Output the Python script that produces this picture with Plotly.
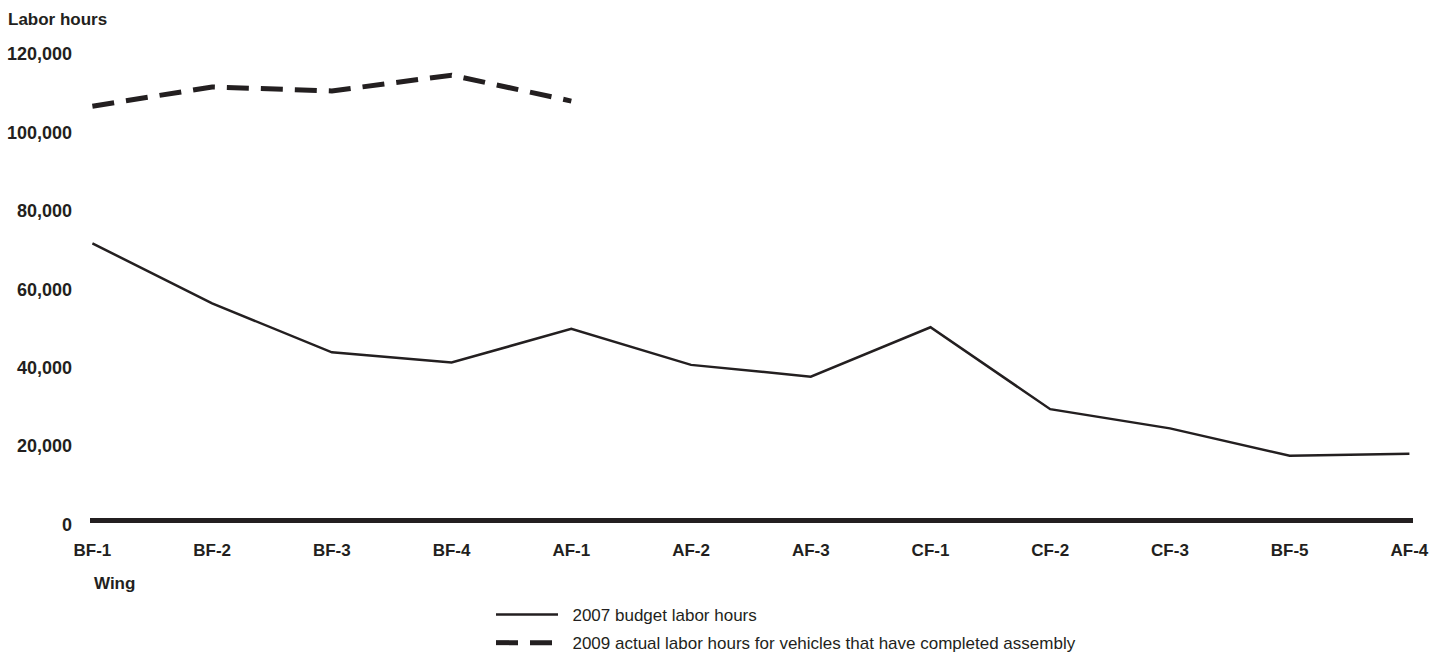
import plotly.graph_objects as go

wings = ["BF-1", "BF-2", "BF-3", "BF-4", "AF-1", "AF-2", "AF-3", "CF-1", "CF-2", "CF-3", "BF-5", "AF-4"]
budget_2007 = [70700, 55400, 42900, 40300, 48900, 39700, 36700, 49300, 28400, 23500, 16500, 17000]
actual_wings = ["BF-1", "BF-2", "BF-3", "BF-4", "AF-1"]
actual_2009 = [105700, 110600, 109600, 113600, 107000]
y_ticks = [0, 20000, 40000, 60000, 80000, 100000, 120000]
y_tick_text = ["0", "20,000", "40,000", "60,000", "80,000", "100,000", "120,000"]

INK = "#231f20"
FONT = "Liberation Sans, Arial, sans-serif"
NB = "\u00a0\u00a0"

PLOT_L, PLOT_R, PLOT_T, PLOT_B = 90, 1413, 42, 522
PW, PH = PLOT_R - PLOT_L, PLOT_B - PLOT_T

fig = go.Figure()
fig.add_trace(go.Scatter(
    x=wings, y=budget_2007, mode="lines",
    line=dict(color=INK, width=2.5),
    name=NB + "2007 budget labor hours", legendgroup="a",
))
fig.add_trace(go.Scatter(
    x=actual_wings, y=actual_2009, mode="lines",
    line=dict(color=INK, width=5, dash="22px,12px"),
    name=NB + "2009 actual labor hours for vehicles that have completed assembly", legendgroup="b",
))

fig.update_layout(
    width=1444, height=654,
    margin=dict(l=PLOT_L, r=1444 - PLOT_R, t=PLOT_T, b=654 - PLOT_B, autoexpand=False),
    plot_bgcolor="white", paper_bgcolor="white",
    font=dict(family=FONT, color=INK),
    showlegend=True,
    legend=dict(
        x=(491 - PLOT_L) / PW, y=(PLOT_B - 597) / PH, xanchor="left", yanchor="top",
        font=dict(size=17, family=FONT, color=INK),
        itemwidth=62, tracegroupgap=3,
        bgcolor="rgba(0,0,0,0)",
    ),
    xaxis=dict(
        type="category", categoryorder="array", categoryarray=wings,
        range=[-0.02, 11.03],
        showgrid=False, showline=False, zeroline=False,
        ticks="", ticklabelstandoff=16, tickangle=0,
        tickfont=dict(family=FONT, size=17, color=INK, weight="bold"),
    ),
    yaxis=dict(
        range=[-380, 122070],
        tickvals=y_ticks, ticktext=y_tick_text,
        showgrid=False, showline=False,
        zeroline=True, zerolinecolor=INK, zerolinewidth=5,
        ticks="", ticklabelstandoff=17, ticklabelshift=4,
        tickfont=dict(family=FONT, size=18, color=INK, weight="bold"),
    ),
    annotations=[
        dict(text="<b>Labor hours</b>", xref="paper", yref="paper",
             x=-(PLOT_L - 6) / PW, y=1 + 23 / PH, xanchor="left", yanchor="middle",
             showarrow=False, font=dict(family=FONT, size=17, color=INK)),
        dict(text="<b>Wing</b>", xref="paper", yref="paper",
             x=2 / PW, y=-(583 - PLOT_B) / PH, xanchor="left", yanchor="middle",
             showarrow=False, font=dict(family=FONT, size=17, color=INK)),
    ],
)

fig.write_html(
    "out.html",
    config={"displayModeBar": False},
    post_script="document.body.style.margin='0';document.body.style.padding='0';",
)
